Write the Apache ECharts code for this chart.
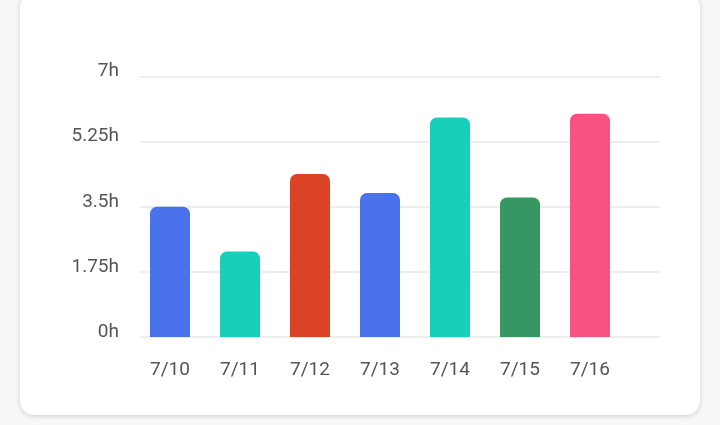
<!DOCTYPE html>
<html>
<head>
<meta charset="utf-8">
<script src="https://cdn.jsdelivr.net/npm/echarts@6/dist/echarts.min.js"></script>
<style>
html,body{margin:0;padding:0;background:#f8f8f8;width:720px;height:425px;overflow:hidden;}
#card{position:absolute;left:20px;top:-6px;width:680px;height:421px;background:#fff;border-radius:14px;box-shadow:0 1px 5px rgba(0,0,0,0.18);}
#chart{position:absolute;left:0;top:0;width:720px;height:425px;}
</style>
</head>
<body>
<div id="card"></div>
<div id="chart"></div>
<script>
const categories = ['7/10','7/11','7/12','7/13','7/14','7/15','7/16'];
const hours = [3.5, 2.3, 4.38, 3.87, 5.9, 3.75, 6.0];
const barColors = ['#4a72ea','#18cfb9','#da4325','#4a72ea','#18cfb9','#379762','#f75282'];
const yTicks = [0, 1.75, 3.5, 5.25, 7];
const yLabels = ['0h','1.75h','3.5h','5.25h','7h'];

const chart = echarts.init(document.getElementById('chart'), null, {renderer:'canvas'});
const font = 'Roboto';
chart.setOption({
  backgroundColor: 'transparent',
  animation: false,
  grid: [
    {left: 140, right: 60, top: 76.5, bottom: 88, containLabel: false},
    {left: 135, width: 490, top: 76.5, bottom: 88, containLabel: false}
  ],
  xAxis: [
    {type: 'category', gridIndex: 0, data: categories, show: false},
    {type: 'category', gridIndex: 1, data: categories,
     axisLine: {show: false}, axisTick: {show: false},
     axisLabel: {color: '#555', fontSize: 19, fontFamily: font, margin: 24}}
  ],
  yAxis: [
    {type: 'value', gridIndex: 0, min: 0, max: 7, interval: 1.75,
     axisLine: {show: false}, axisTick: {show: false},
     axisLabel: {color: '#555', fontSize: 19, fontFamily: font, margin: 21,
       verticalAlign: 'bottom', lineHeight: 10,
       formatter: function (v) { const i = yTicks.indexOf(v); return i >= 0 ? yLabels[i] : ''; }},
     splitLine: {show: true, lineStyle: {color: '#eeeeee', width: 2}}},
    {type: 'value', gridIndex: 1, min: 0, max: 7, interval: 1.75, show: false,
     splitLine: {show: false}}
  ],
  series: [{
    type: 'bar',
    xAxisIndex: 1, yAxisIndex: 1,
    barWidth: 40,
    data: hours.map((v, i) => ({value: v, itemStyle: {color: barColors[i], borderRadius: [7,7,0,0]}}))
  }]
});
</script>
</body>
</html>
